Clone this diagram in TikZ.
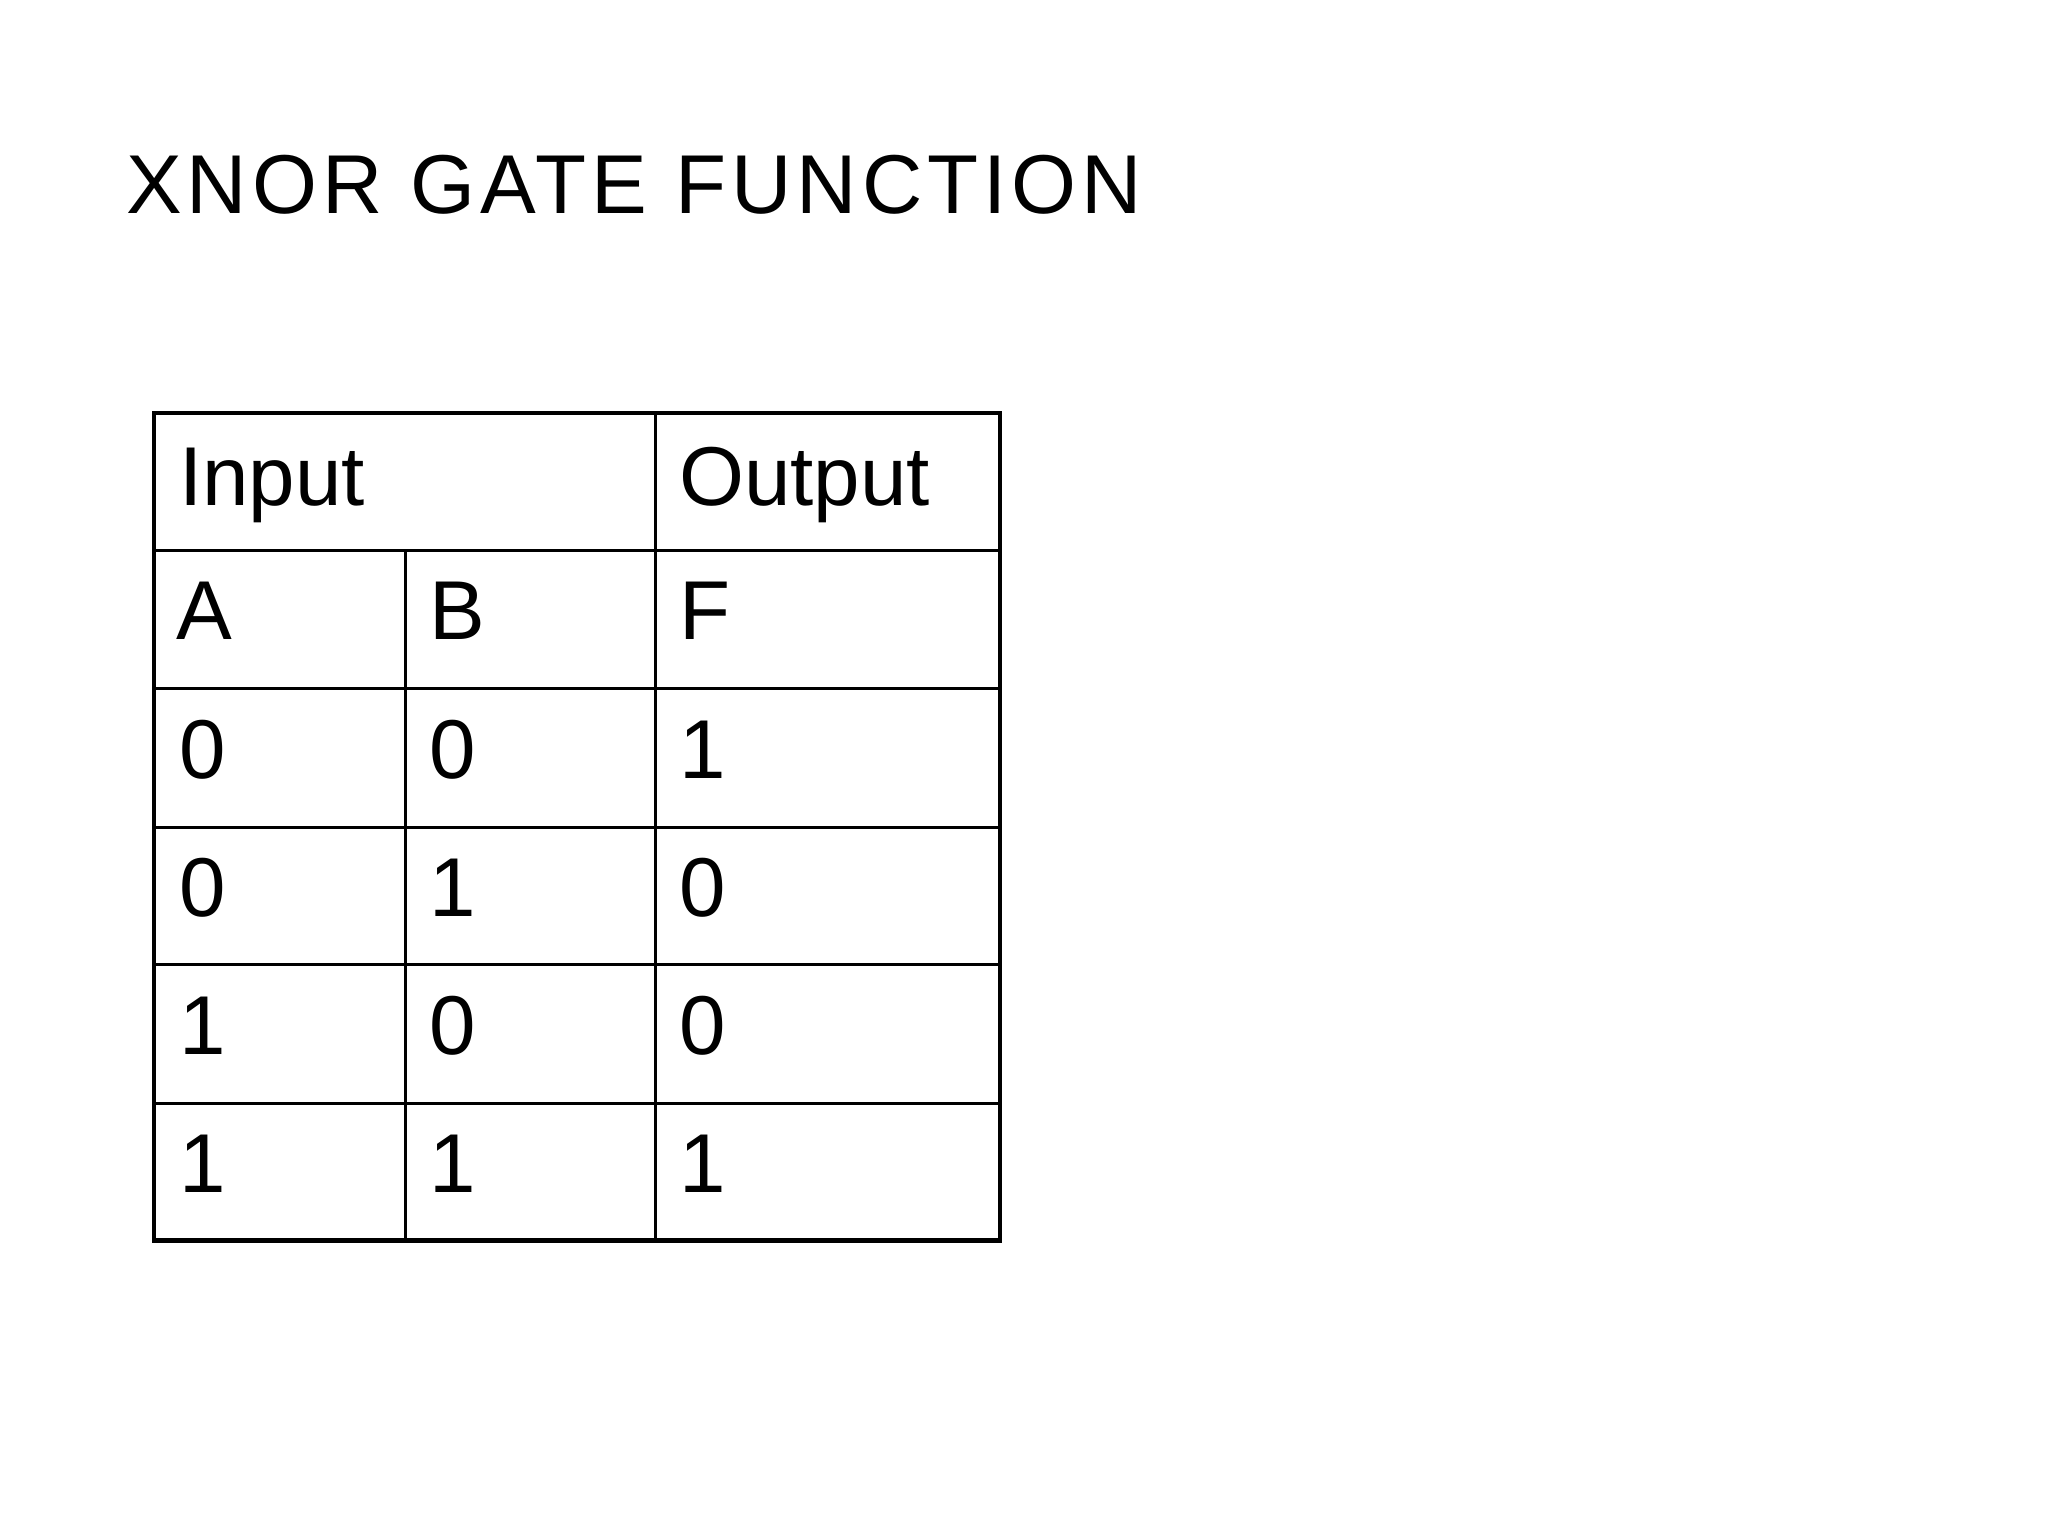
\documentclass[tikz,border=0pt]{standalone}
\usepackage{fontspec}
\setmainfont{Liberation Sans}
\begin{document}
\begin{tikzpicture}[x=0.01cm,y=-0.01cm,
  cell/.style={anchor=base west,inner sep=0pt,font=\fontsize{18pt}{20pt}\selectfont},
  inner/.style={line width=0.6pt},
  outer/.style={line width=0.9pt}]
\useasboundingbox (0,0) rectangle (1552,1164);
\node[anchor=base west,inner sep=0pt,font=\fontsize{18pt}{20pt}\selectfont\addfontfeature{LetterSpace=6}] (title) at (95,162) {XNOR GATE FUNCTION};
\coordinate (tl) at (117,313);
\coordinate (br) at (758,940);
% inner lines
\foreach \y in {417,522,627,731,836} \draw[inner] (117,\y) -- (758,\y);
\draw[inner] (497,313) -- (497,940);
\draw[inner] (307,417) -- (307,940);
\draw[outer] (tl) rectangle (br);
\node[cell] (in) at (135,383) {Input};
\node[cell] (out) at (514,383) {Output};
\node[cell] (ha) at (133,485) {A};
\node[cell] (hb) at (325,485) {B};
\node[cell] (hf) at (514,485) {F};
\foreach \a/\b/\f [count=\i] in {0/0/1,0/1/0,1/0/0,1/1/1}{
  \pgfmathsetmacro{\yy}{522+(\i-1)*104.5+68}
  \node[cell] (a\i) at (135,\yy) {\a};
  \node[cell] (b\i) at (325,\yy) {\b};
  \node[cell] (f\i) at (514,\yy) {\f};
}
\end{tikzpicture}
\end{document}
